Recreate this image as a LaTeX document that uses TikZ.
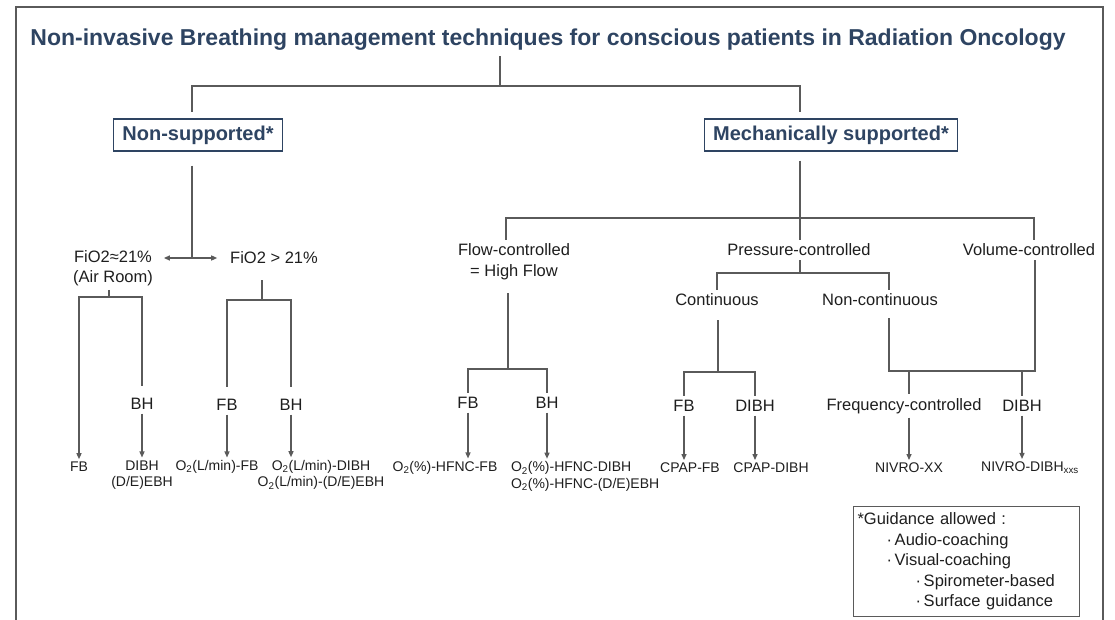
\documentclass[tikz,border=0pt]{standalone}
\usepackage{fontspec}
\setmainfont{Liberation Sans}
\usepackage{tikz}
\usetikzlibrary{arrows.meta}
\definecolor{titleblue}{HTML}{2E4462}
\definecolor{linegray}{HTML}{5A5A5A}
\definecolor{textgray}{HTML}{1E1E1E}

\begin{document}
\begin{tikzpicture}[x=1pt, y=-1pt]
				\useasboundingbox (0,0) rectangle (1115,620);
				\draw [linegray, line width=1.2pt] (16,620) -- (16,7) -- (1103,7) -- (1103,620);
				\node [font=\fontsize{23}{27}\selectfont\bfseries, text=titleblue] (T) at (548,40)
					{Non-invasive Breathing management techniques for conscious patients in Radiation Oncology};
				\begin{scope}[every node/.style = {draw=titleblue, line width=1.3pt, text=titleblue,
						font=\fontsize{20}{24}\selectfont\bfseries, minimum height=32pt, inner xsep=9pt}]
					\node (NS) at (198,135) {Non-supported*};
					\node (MS) at (831,135) {Mechanically supported*};
				\end{scope}
				\begin{scope}[every node/.style = {text=textgray, align=center, inner sep=2pt, outer sep=2pt,
						font=\fontsize{16.5}{20.5}\selectfont}]
					\node (A) at (113,268) {FiO2≈21\%\\(Air Room)};
					\node (B) at (274,258) {FiO2 > 21\%};
					\node (C) at (514,261.5) {Flow-controlled\\= High Flow};
					\node (D) at (799,250) {Pressure-controlled};
					\node (E) at (1029,250) {Volume-controlled};
					\node (F) at (717,300) {Continuous};
					\node (G) at (880,300) {Non-continuous};
					\node (H1) at (142,404) {BH};
					\node (H2) at (227,405) {FB};
					\node (H3) at (291,405) {BH};
					\node (H4) at (468,403) {FB};
					\node (H5) at (547,403) {BH};
					\node (H6) at (684,406) {FB};
					\node (H7) at (755,406) {DIBH};
					\node (H8) at (904,406) {Frequency-controlled};
					\node (H9) at (1022,406) {DIBH};
				\end{scope}
				\begin{scope}[every node/.style = {text=textgray, align=center, inner sep=2pt, outer sep=1pt,
						font=\fontsize{14}{16.5}\selectfont}]
					\node (R1) at (79,467) {FB};
					\node (R2) at (142,475) {DIBH\\(D/E)EBH};
					\node (R3) at (217,467) {O\textsubscript{2}(L/min)-FB};
					\node (R4) at (321,475) {O\textsubscript{2}(L/min)-DIBH\\O\textsubscript{2}(L/min)-(D/E)EBH};
					\node (R5) at (445,468) {O\textsubscript{2}(\%)-HFNC-FB};
					\node [anchor=west, align=left] (R6) at (508,476.5) {O\textsubscript{2}(\%)-HFNC-DIBH\\O\textsubscript{2}(\%)-HFNC-(D/E)EBH};
					\node (R7) at (690,468) {CPAP-FB};
					\node (R8) at (771,468) {CPAP-DIBH};
					\node (R9) at (909,468) {NIVRO-XX};
					\node (R10) at (1030,468) {NIVRO-DIBH\textsubscript{xxs}};
				\end{scope}
				\node [draw=linegray, line width=1pt, anchor=north west, text width=218pt, inner xsep=4pt,
					minimum height=110pt, align=left, text=textgray, font=\fontsize{16.5}{20.5}\selectfont] (GB) at (853,506)
					{*Guidance allowed :\\
					\hspace*{29pt}·\,Audio-coaching\\
					\hspace*{29pt}·\,Visual-coaching\\
					\hspace*{58pt}·\,Spirometer-based\\
					\hspace*{58pt}·\,Surface guidance};
				\coordinate (J0) at (500,86);
				\coordinate (J1) at (192,86);
				\coordinate (J2) at (800,86);
				\coordinate (J3) at (192,258);
				\coordinate (J4) at (109,297);
				\coordinate (J5) at (262,300);
				\coordinate (J6) at (506,218);
				\coordinate (J7) at (800,218);
				\coordinate (J8) at (1034,218);
				\coordinate (J9) at (508,369);
				\coordinate (J10) at (800,273);
				\coordinate (J11) at (718,372);
				\coordinate (J12) at (889,371);
				\coordinate (J13) at (1035,371);
				\begin{scope}[draw=linegray, line width=1.3pt,
						>={Triangle[length=6pt, width=5pt]}]
					\draw [shorten <=2pt] (J0 |- T.south) -- (J0);
					\draw [shorten >=6pt] (J0) -- (J1) -- (J1 |- NS.north);
					\draw [shorten >=6pt] (J0) -- (J2) -- (J2 |- MS.north);
					\draw [shorten <=14pt] (J1 |- NS.south) -- (J3);
					\draw [<->, shorten <=7pt, shorten >=9pt] (A.east |- J3) -- (B.west);
					\draw (J4 |- A.south) -- (J4);
					\draw [->] (J4) -| (R1.north);
					\draw [shorten >=8pt] (J4) -| (H1.north);
					\draw [shorten <=12pt] (J5 |- B.south) -- (J5);
					\draw [shorten >=8pt] (J5) -| (H2.north);
					\draw [shorten >=8pt] (J5) -| (H3.north);
					\draw (J6 |- C.north) -- (J6) -- (J8) -- (J8 |- E.north);
					\draw [shorten <=9pt] (J7 |- MS.south) -- (J7 |- D.north);
					\draw [shorten <=10pt] (J9 |- C.south) -- (J9);
					\draw (J9) -| (H4.north);
					\draw (J9) -| (H5.north);
					\draw (J10 |- D.south) -- (J10);
					\draw (J10) -| (F.north);
					\draw (J10) -| (J12 |- G.north);
					\draw [shorten <=10pt] (J11 |- F.south) -- (J11);
					\draw (J11) -| (H6.north);
					\draw (J11) -| (H7.north);
					\draw [shorten <=8pt] (J12 |- G.south) -- (J12) -- (J13) -- (J13 |- E.south);
					\draw (R9 |- J12) -- (R9 |- H8.north);
					\draw (H9 |- J12) -- (H9.north);
					\draw [->] (H1.south) -- (H1.south |- R2.north);
					\draw [->] (H2.south) -- (H2.south |- R3.north);
					\draw [->] (H3.south) -- (H3.south |- R4.north);
					\draw [->] (H4.south) -- (H4.south |- R5.north);
					\draw [->] (H5.south) -- (H5.south |- R6.north);
					\draw [->] (H6.south) -- (H6.south |- R7.north);
					\draw [->] (H7.south) -- (H7.south |- R8.north);
					\draw [->] (R9 |- H8.south) -- (R9.north);
					\draw [->] (H9.south) -- (H9.south |- R10.north);
				\end{scope}
			\end{tikzpicture}
\end{document}
